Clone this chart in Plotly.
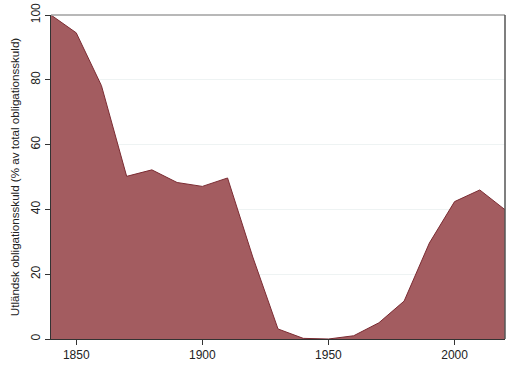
import plotly.graph_objects as go

years = [1840, 1850, 1860, 1870, 1880, 1890, 1900, 1910, 1920, 1930,
         1940, 1950, 1960, 1970, 1980, 1990, 2000, 2010, 2020]
share = [100, 94.5, 78.2, 50.2, 52.2, 48.3, 47.1, 49.7, 25.3, 3.1,
         0.2, 0, 1.0, 5.0, 11.7, 29.6, 42.4, 46.0, 39.9]
x_ticks = [1850, 1900, 1950, 2000]
y_ticks = [0, 20, 40, 60, 80, 100]

fig = go.Figure()
fig.add_trace(go.Scatter(
    x=years, y=share, mode="lines", fill="tozeroy",
    line=dict(color="#7b2c33", width=1),
    fillcolor="#a35c60", hoverinfo="skip"))

fig.add_shape(type="line", xref="paper", yref="paper", x0=0, x1=1, y0=1, y1=1,
              line=dict(color="#a0a0a0", width=1.5), layer="above")
fig.add_shape(type="line", xref="paper", yref="paper", x0=1, x1=1, y0=0, y1=1,
              line=dict(color="#555555", width=1.5), layer="above")

fig.update_layout(
    width=520, height=378,
    margin=dict(l=51, r=15, t=15, b=39, autoexpand=False),
    paper_bgcolor="white", plot_bgcolor="white",
    showlegend=False,
    font=dict(family="Arial, Liberation Sans, sans-serif", color="#222222", size=12),
    xaxis=dict(range=[1840, 2020], tickvals=x_ticks, showgrid=False, automargin=False,
               showline=True, linecolor="#333333", linewidth=1,
               ticks="outside", ticklen=5, tickcolor="#333333", zeroline=False),
    yaxis=dict(range=[0, 100], tickvals=y_ticks, tickangle=-90, automargin=False,
               showgrid=True, gridcolor="#eef3f3", gridwidth=1,
               showline=True, linecolor="#333333", linewidth=1,
               ticks="outside", ticklen=5, tickcolor="#333333", zeroline=False,
               title=dict(text="Utländsk obligationsskuld (% av total obligationsskuld)",
                          font=dict(size=11.6), standoff=7)),
)
fig.write_html("out.html", config={"displayModeBar": False},
               post_script="document.body.style.margin='0';")
